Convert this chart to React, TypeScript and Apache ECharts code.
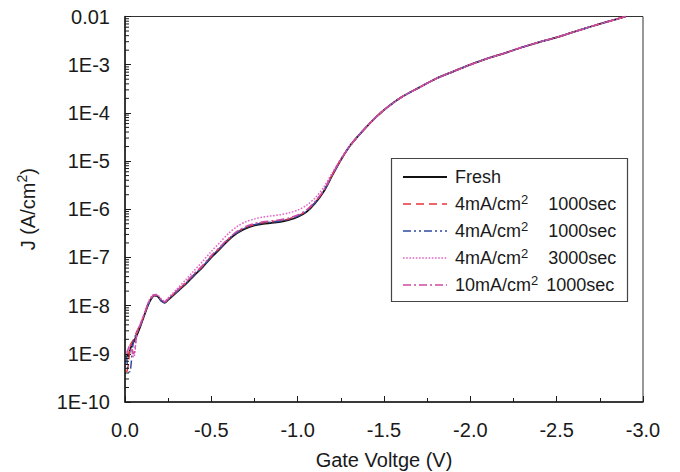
import React, { useEffect, useRef } from "react";
import * as echarts from "echarts";

// Gate voltage (V)
const voltage = [
  -0.01, -0.02, -0.03, -0.05, -0.07, -0.09, -0.11, -0.13, -0.15, -0.17, -0.19, -0.21, -0.23, -0.25,
  -0.3, -0.35, -0.4, -0.45, -0.5, -0.55, -0.6, -0.65, -0.7, -0.75, -0.8, -0.85, -0.9, -0.95, -1.0,
  -1.05, -1.1, -1.15, -1.2, -1.25, -1.3, -1.35, -1.4, -1.45, -1.5, -1.6, -1.7, -1.8, -1.9, -2.0,
  -2.1, -2.2, -2.3, -2.4, -2.5, -2.6, -2.7, -2.8, -2.9,
];

// Current density J (A/cm2)
const fresh = [
  1.0e-9, 8.9e-10, 1.26e-9, 1.78e-9, 2.5e-9, 3.8e-9, 6.0e-9, 9.5e-9, 1.35e-8, 1.62e-8, 1.55e-8, 1.26e-8, 1.15e-8, 1.32e-8,
  1.9e-8, 2.75e-8, 4.2e-8, 6.3e-8, 1.0e-7, 1.5e-7, 2.3e-7, 3.2e-7, 4.0e-7, 4.6e-7, 5.0e-7, 5.2e-7, 5.5e-7, 6.0e-7, 6.9e-7,
  8.7e-7, 1.32e-6, 2.3e-6, 5.0e-6, 1.05e-5, 2.0e-5, 3.3e-5, 5.2e-5, 7.9e-5, 1.15e-4, 2.1e-4, 3.3e-4, 5.1e-4, 7.2e-4, 1.0e-3,
  1.35e-3, 1.74e-3, 2.3e-3, 2.95e-3, 3.7e-3, 4.8e-3, 6.2e-3, 7.9e-3, 1.0e-2,
];
const stress4mA1000a = [
  4.2e-10, 6.0e-10, 1.5e-9, 2.0e-9, 3.0e-9, 4.2e-9, 6.3e-9, 1.0e-8, 1.4e-8, 1.65e-8, 1.58e-8, 1.28e-8, 1.17e-8, 1.36e-8,
  2.0e-8, 2.9e-8, 4.4e-8, 6.6e-8, 1.05e-7, 1.58e-7, 2.4e-7, 3.35e-7, 4.2e-7, 4.85e-7, 5.25e-7, 5.5e-7, 5.8e-7, 6.3e-7, 7.3e-7,
  9.2e-7, 1.4e-6, 2.4e-6, 5.1e-6, 1.07e-5, 2.0e-5, 3.3e-5, 5.2e-5, 7.9e-5, 1.15e-4, 2.1e-4, 3.3e-4, 5.1e-4, 7.2e-4, 1.0e-3,
  1.35e-3, 1.74e-3, 2.3e-3, 2.95e-3, 3.7e-3, 4.8e-3, 6.2e-3, 7.9e-3, 1.0e-2,
];
const stress4mA1000b = [
  9.0e-10, 4.2e-10, 4.3e-10, 1.9e-9, 2.8e-9, 4.0e-9, 6.1e-9, 9.6e-9, 1.37e-8, 1.63e-8, 1.56e-8, 1.27e-8, 1.14e-8, 1.33e-8,
  1.97e-8, 2.85e-8, 4.35e-8, 6.5e-8, 1.04e-7, 1.56e-7, 2.4e-7, 3.3e-7, 4.15e-7, 4.8e-7, 5.2e-7, 5.4e-7, 5.7e-7, 6.2e-7, 7.2e-7,
  9.0e-7, 1.37e-6, 2.38e-6, 5.1e-6, 1.06e-5, 2.0e-5, 3.3e-5, 5.2e-5, 7.9e-5, 1.15e-4, 2.1e-4, 3.3e-4, 5.1e-4, 7.2e-4, 1.0e-3,
  1.35e-3, 1.74e-3, 2.3e-3, 2.95e-3, 3.7e-3, 4.8e-3, 6.2e-3, 7.9e-3, 1.0e-2,
];
const stress4mA3000 = [
  1.1e-9, 1.2e-9, 1.3e-9, 8.5e-10, 2.8e-9, 4.3e-9, 6.8e-9, 1.08e-8, 1.5e-8, 1.72e-8, 1.65e-8, 1.38e-8, 1.25e-8, 1.45e-8,
  2.2e-8, 3.4e-8, 5.3e-8, 8.3e-8, 1.33e-7, 2.05e-7, 3.15e-7, 4.4e-7, 5.5e-7, 6.3e-7, 6.9e-7, 7.3e-7, 7.7e-7, 8.4e-7, 9.6e-7,
  1.2e-6, 1.7e-6, 2.85e-6, 5.7e-6, 1.12e-5, 2.05e-5, 3.35e-5, 5.25e-5, 7.9e-5, 1.15e-4, 2.1e-4, 3.3e-4, 5.1e-4, 7.2e-4, 1.0e-3,
  1.35e-3, 1.74e-3, 2.3e-3, 2.95e-3, 3.7e-3, 4.8e-3, 6.2e-3, 7.9e-3, 1.0e-2,
];
const stress10mA1000 = [
  1.0e-9, 1.3e-9, 1.6e-9, 1.0e-9, 2.7e-9, 4.1e-9, 6.4e-9, 1.02e-8, 1.42e-8, 1.68e-8, 1.6e-8, 1.32e-8, 1.2e-8, 1.38e-8,
  2.05e-8, 3.0e-8, 4.6e-8, 6.9e-8, 1.1e-7, 1.65e-7, 2.5e-7, 3.5e-7, 4.4e-7, 5.05e-7, 5.5e-7, 5.75e-7, 6.05e-7, 6.6e-7, 7.6e-7,
  9.6e-7, 1.45e-6, 2.45e-6, 5.2e-6, 1.07e-5, 2.0e-5, 3.3e-5, 5.2e-5, 7.9e-5, 1.15e-4, 2.1e-4, 3.3e-4, 5.1e-4, 7.2e-4, 1.0e-3,
  1.35e-3, 1.74e-3, 2.3e-3, 2.95e-3, 3.7e-3, 4.8e-3, 6.2e-3, 7.9e-3, 1.0e-2,
];

const seriesNames = ["Fresh", "4mA/cm2 1000sec (a)", "4mA/cm2 1000sec (b)", "4mA/cm2 3000sec", "10mA/cm2 1000sec"];
const legendLabels = [
  "{n|Fresh}",
  "{n|4mA/cm}{s|2}{g| }{n|1000sec}",
  "{n|4mA/cm}{s|2}{g| }{n|1000sec}",
  "{n|4mA/cm}{s|2}{g| }{n|3000sec}",
  "{n|10mA/cm}{s|2}{h| }{n|1000sec}",
];
const seriesValues = [fresh, stress4mA1000a, stress4mA1000b, stress4mA3000, stress10mA1000];
const seriesColors = ["#111111", "#e8323a", "#2e4a9e", "#e264c6", "#cf4aa2"];
const seriesDash: any[] = [null, [8, 5], [8, 3, 2, 3, 2, 3], [1.6, 1.6], [8, 3, 2, 3]];
const seriesWidth = [1.8, 1.5, 1.5, 1.5, 1.5];

// y-axis minor tick positions (log decades) – decoration only
const minorMantissas = [2, 3, 4, 5, 6, 7, 8, 9];
const decadeExponents = [-10, -9, -8, -7, -6, -5, -4, -3];

const FONT = "Liberation Sans, Arial, sans-serif";
const INK = "#1a1a1a";

export default function App() {
  const ref = useRef<HTMLDivElement>(null);
  useEffect(() => {
    document.body.style.margin = "0";
    if (!ref.current) return;
    const chart = echarts.init(ref.current, undefined, { renderer: "svg" });

    const minorTicks: number[][] = [];
    decadeExponents.forEach((e) =>
      minorMantissas.forEach((m) => minorTicks.push([0, Number((m * Math.pow(10, e)).toPrecision(3))]))
    );

    const lineSeries = seriesNames.map((name, i) => ({
      name,
      type: "line",
      data: voltage.map((v, j) => [v, seriesValues[i][j]]),
      showSymbol: false,
      symbol: "none",
      smooth: 0.3,
      lineStyle: { color: seriesColors[i], width: seriesWidth[i], type: seriesDash[i] || "solid" },
      itemStyle: { color: seriesColors[i] },
      z: 2 + i,
    }));

    // Legend drawn as graphic elements (line samples + rich text)
    const legendTop = 177;
    const legendStep = 27;
    const legendGraphics: any[] = [];
    seriesNames.forEach((_, i) => {
      const y = legendTop + legendStep * i;
      legendGraphics.push({
        type: "line",
        shape: { x1: 403, y1: y, x2: 447, y2: y },
        style: {
          stroke: seriesColors[i],
          lineWidth: seriesWidth[i],
          lineDash: seriesDash[i] || null,
        },
        z: 100,
      });
      legendGraphics.push({
        type: "text",
        x: 455,
        y: y,
        style: {
          text: legendLabels[i],
          fill: INK,
          fontSize: 18,
          fontFamily: FONT,
          verticalAlign: "middle",
          textVerticalAlign: "middle",
          rich: {
            n: { fontSize: 18, lineHeight: 22, fill: INK, color: INK, fontFamily: FONT },
            s: { fontSize: 13, lineHeight: 13, fill: INK, color: INK, fontFamily: FONT, verticalAlign: "top" },
            g: { width: 20, fontSize: 18, lineHeight: 22 },
            h: { width: 8, fontSize: 18, lineHeight: 22 },
          },
        },
        z: 100,
      });
    });

    const option: any = {
      animation: false,
      backgroundColor: "#ffffff",
      textStyle: { fontFamily: FONT },
      grid: {
        left: 125,
        right: 37,
        top: 16.5,
        bottom: 70,
        show: true,
        borderColor: "#333",
        borderWidth: 1,
        outerBoundsMode: "none",
      },
      xAxis: {
        type: "value",
        min: -3,
        max: 0,
        interval: 0.5,
        inverse: true,
        name: "Gate Voltge (V)",
        nameLocation: "middle",
        nameGap: 48,
        nameTextStyle: { fontSize: 20, color: INK, fontFamily: FONT },
        axisLine: { show: true, lineStyle: { color: INK, width: 1.5 } },
        axisTick: { show: true, inside: true, length: 6, lineStyle: { color: INK, width: 1 } },
        minorTick: { show: true, splitNumber: 2, length: 4, lineStyle: { color: INK, width: 1 } },
        splitLine: { show: false },
        axisLabel: {
          fontSize: 20,
          color: INK,
          fontFamily: FONT,
          margin: 18,
          formatter: (v: number) => (Math.abs(v) < 1e-9 ? "0.0" : v.toFixed(1)),
        },
      },
      yAxis: {
        type: "log",
        logBase: 10,
        min: 1e-10,
        max: 1e-2,
        splitNumber: 8,
        name: "J (A/cm{s|2})",
        nameLocation: "middle",
        nameGap: 84,
        nameTextStyle: {
          fontSize: 20,
          color: INK,
          fontFamily: FONT,
          lineHeight: 26,
          rich: { s: { fontSize: 14, verticalAlign: "top", lineHeight: 14, color: INK, fontFamily: FONT } },
        },
        axisLine: { show: true, lineStyle: { color: INK, width: 1.5 } },
        axisTick: { show: true, inside: true, length: 6, lineStyle: { color: INK, width: 1 } },
        minorTick: { show: false },
        splitLine: { show: false },
        axisLabel: {
          fontSize: 20,
          color: INK,
          fontFamily: FONT,
          margin: 15,
          formatter: (v: number) => {
            const e = Math.round(Math.log10(v));
            return e === -2 ? "0.01" : "1E" + e;
          },
        },
      },
      graphic: [
        {
          type: "rect",
          shape: { x: 391.5, y: 158.5, width: 236, height: 143 },
          style: { fill: "#ffffff", stroke: "#444", lineWidth: 1.2 },
          z: 99,
        },
        ...legendGraphics,
      ],
      series: [
        ...lineSeries,
        {
          type: "custom",
          name: "minorTicks",
          silent: true,
          data: minorTicks,
          renderItem: (params: any, api: any) => {
            const p = api.coord([0, api.value(1)]);
            return {
              type: "line",
              shape: { x1: p[0], y1: p[1], x2: p[0] + 4, y2: p[1] },
              style: { stroke: INK, lineWidth: 1 },
            };
          },
          z: 10,
        },
      ],
    };
    chart.setOption(option);
    return () => chart.dispose();
  }, []);
  return <div ref={ref} style={{ width: 680, height: 472 }} />;
}
